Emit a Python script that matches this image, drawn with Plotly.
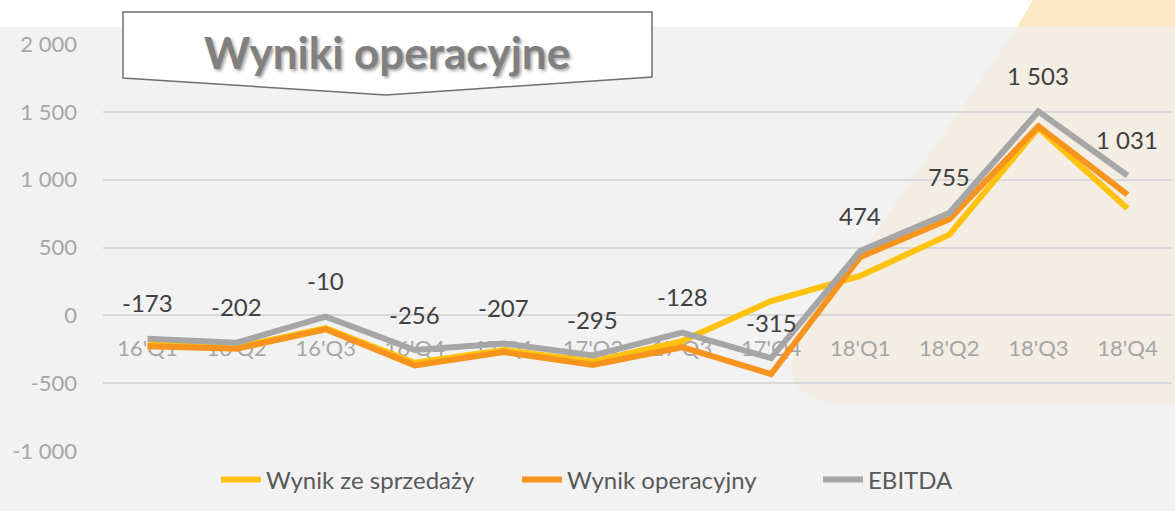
import plotly.graph_objects as go

categories = ["16'Q1", "16'Q2", "16'Q3", "16'Q4", "17'Q1", "17'Q2",
              "17'Q3", "17'Q4", "18'Q1", "18'Q2", "18'Q3", "18'Q4"]
wynik_sprzedazy = [-215, -235, -95, -350, -255, -340, -190, 105, 290, 595, 1380, 787]
wynik_operacyjny = [-227, -246, -103, -369, -271, -366, -235, -433, 430, 708, 1394, 890]
ebitda = [-173, -202, -10, -256, -207, -295, -128, -315, 474, 755, 1503, 1031]

y_tick_vals = [-1000, -500, 0, 500, 1000, 1500, 2000]
y_tick_text = ["-1 000", "-500", "0", "500", "1 000", "1 500", "2 000"]

W, H = 1175, 511
ML, MR, MT, MB = 103, 3, 44, 60
PW, PH = W - ML - MR, H - MT - MB


def px(x):
    return (x - ML) / PW


def py(y):
    return (H - MB - y) / PH


def fmt(v):
    return f"{v:,}".replace(",", " ")


FONT = "Lato"
fig = go.Figure()
fig.add_trace(go.Scatter(x=categories, y=wynik_sprzedazy, name="Wynik ze sprzedaży",
                         mode="lines", line=dict(color="#ffc20e", width=6)))
fig.add_trace(go.Scatter(x=categories, y=wynik_operacyjny, name="Wynik operacyjny",
                         mode="lines", line=dict(color="#f7941d", width=6)))
fig.add_trace(go.Scatter(x=categories, y=ebitda, name="EBITDA",
                         mode="lines", line=dict(color="#a6a6a6", width=6)))

for c, v in zip(categories, ebitda):
    fig.add_annotation(x=c, y=v, text=fmt(v), showarrow=False, yshift=36,
                       font=dict(family=FONT, size=24, color="#404040"))

shapes = []
# grey panel
shapes.append(dict(type="rect", xref="paper", yref="paper",
                   x0=px(0), x1=px(W), y0=py(H), y1=py(27),
                   fillcolor="#f2f2f2", line=dict(width=0), layer="below"))
# peach corner at top
shapes.append(dict(type="path", xref="paper", yref="paper",
                   path=f"M {px(1033)},{py(0)} L {px(W)},{py(0)} L {px(W)},{py(27)} L {px(1017)},{py(27)} Z",
                   fillcolor="#fde8c6", line=dict(width=0), layer="below"))
# beige tint in the panel
shapes.append(dict(type="path", xref="paper", yref="paper",
                   path=(f"M {px(1017)},{py(27)} L {px(795)},{py(350)} "
                         f"Q {px(780)},{py(400)} {px(845)},{py(405)} "
                         f"L {px(W)},{py(405)} L {px(W)},{py(27)} Z"),
                   fillcolor="#f3ede3", line=dict(width=0), layer="below"))
# title callout box
shapes.append(dict(type="path", xref="paper", yref="paper",
                   path=(f"M {px(123)},{py(12)} L {px(652)},{py(12)} L {px(652)},{py(77)} "
                         f"L {px(386)},{py(95)} L {px(123)},{py(78)} Z"),
                   fillcolor="#ffffff", line=dict(color="#6f6f6f", width=1.5), layer="above"))

fig.add_annotation(xref="paper", yref="paper", x=px(387), y=py(52),
                   xanchor="center", yanchor="middle",
                   text="<b>Wyniki operacyjne</b>", showarrow=False,
                   font=dict(family=FONT, size=44, color="#808080",
                             shadow="2px 2px 3px rgba(0,0,0,0.35)"))

fig.update_layout(
    width=W, height=H,
    margin=dict(l=ML, r=MR, t=MT, b=MB, pad=0, autoexpand=False),
    paper_bgcolor="#ffffff",
    plot_bgcolor="rgba(0,0,0,0)",
    shapes=shapes,
    showlegend=True,
    legend=dict(orientation="h", xref="container", yref="container",
                x=216 / W, xanchor="left", y=1 - 480 / H, yanchor="middle",
                font=dict(family=FONT, size=24, color="#595959"),
                entrywidth=246, entrywidthmode="pixels",
                bgcolor="rgba(0,0,0,0)", itemwidth=40, traceorder="normal"),
    xaxis=dict(type="category", range=[-0.5, 11.5], anchor="free",
               position=1 / 3, showgrid=False, showline=False, zeroline=False,
               ticks="", ticklabelstandoff=18, layer="below traces",
               tickfont=dict(family=FONT, size=22, color="#a6a6a6")),
    yaxis=dict(range=[-1000, 2000], tickvals=y_tick_vals, ticktext=y_tick_text,
               showgrid=True, gridcolor="#d9d9d9", gridwidth=2, zeroline=False,
               showline=False, ticks="", ticklabelstandoff=25,
               tickfont=dict(family=FONT, size=22, color="#a6a6a6")),
)

fig.write_html("out.html", config={"displayModeBar": False},
               post_script="document.body.style.margin='0';")
